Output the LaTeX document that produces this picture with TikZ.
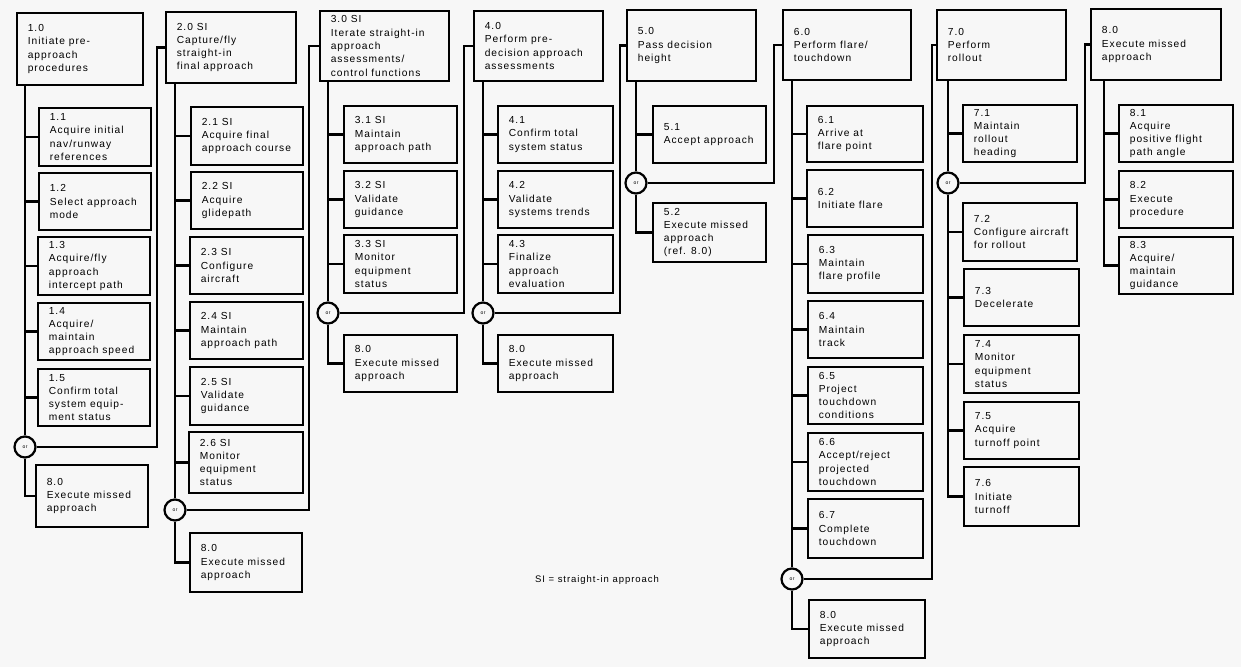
\documentclass[tikz,border=0pt]{standalone}
\usepackage{fontspec}
\setmainfont{Liberation Sans}[LetterSpace=10]
\begin{document}
% one task box: name, left, top, right, bottom, label text
\newcommand\taskbox[6]{%
  \node[tbox, minimum width={#4-#2}, minimum height={#5-#3}] (#1) at ({(#2+#4)/2},{(#3+#5)/2}) {};
  \node[ttext] (#1-t) at ([xshift=12pt]#1.west) {#6};
}
\begin{tikzpicture}[x=1pt,y=-1pt,
  tbox/.style={draw, rectangle, line width=2.8pt, inner sep=0pt},
  ttext/.style={anchor=west, align=left, inner sep=0pt, font=\fontsize{10.2}{13.3}\selectfont},
  conn/.style={line width=2.8pt},
  orgate/.style={circle, draw, line width=2.2pt, fill=white!97!black, minimum size=21pt, inner sep=0pt, font=\fontsize{5}{5}\selectfont}]
\fill[white!97!black] (0,0) rectangle (1241,667);
\useasboundingbox (0,0) rectangle (1241,667);

% ---- 1.0 ----
\taskbox{b10}{17}{13}{143}{85}{1.0\\Initiate pre-\\approach\\procedures}
\taskbox{b11}{39}{108}{151}{166}{1.1\\Acquire initial\\nav/runway\\references}
\taskbox{b12}{39}{173}{151}{230}{1.2\\Select approach\\mode}
\taskbox{b13}{38}{237}{150}{295}{1.3\\Acquire/fly\\approach\\intercept path}
\taskbox{b14}{38}{303}{150}{360}{1.4\\Acquire/\\maintain\\approach speed}
\taskbox{b15}{38}{369}{150}{426}{1.5\\Confirm total\\system equip-\\ment status}
\taskbox{b18}{36}{465}{148}{527}{8.0\\Execute missed\\approach}
\node[orgate] (or1) at (25,447) {or};

% ---- 2.0 ----
\taskbox{b20}{166}{12}{296}{83}{2.0 SI\\Capture/fly\\straight-in\\final approach}
\taskbox{b21}{191}{107}{303}{165}{2.1 SI\\Acquire final\\approach course}
\taskbox{b22}{191}{172}{303}{229}{2.2 SI\\Acquire\\glidepath}
\taskbox{b23}{190}{237}{303}{294}{2.3 SI\\Configure\\aircraft}
\taskbox{b24}{190}{302}{303}{359}{2.4 SI\\Maintain\\approach path}
\taskbox{b25}{190}{367}{303}{425}{2.5 SI\\Validate\\guidance}
\taskbox{b26}{189}{432}{303}{493}{2.6 SI\\Monitor\\equipment\\status}
\taskbox{b28}{190}{533}{302}{592}{8.0\\Execute missed\\approach}
\node[orgate] (or2) at (175,510) {or};

% ---- 3.0 ----
\taskbox{b30}{320}{11}{449}{81}{3.0 SI\\Iterate straight-in\\approach\\assessments/\\control functions}
\taskbox{b31}{344}{106}{457}{163}{3.1 SI\\Maintain\\approach path}
\taskbox{b32}{344}{171}{457}{228}{3.2 SI\\Validate\\guidance}
\taskbox{b33}{344}{235}{457}{293}{3.3 SI\\Monitor\\equipment\\status}
\taskbox{b38}{344}{335}{457}{392}{8.0\\Execute missed\\approach}
\node[orgate] (or3) at (328,313) {or};

% ---- 4.0 ----
\taskbox{b40}{474}{11}{603}{81}{4.0\\Perform pre-\\decision approach\\assessments}
\taskbox{b41}{498}{106}{613}{163}{4.1\\Confirm total\\system status}
\taskbox{b42}{498}{171}{613}{228}{4.2\\Validate\\systems trends}
\taskbox{b43}{498}{235}{613}{293}{4.3\\Finalize\\approach\\evaluation}
\taskbox{b48}{498}{335}{613}{392}{8.0\\Execute missed\\approach}
\node[orgate] (or4) at (483,313) {or};

% ---- 5.0 ----
\taskbox{b50}{627}{10}{756}{81}{5.0\\Pass decision\\height}
\taskbox{b51}{653}{106}{766}{163}{5.1\\Accept approach}
\taskbox{b52}{653}{203}{766}{262}{5.2\\Execute missed\\approach\\(ref. 8.0)}
\node[orgate] (or5) at (636,183) {or};

% ---- 6.0 ----
\taskbox{b60}{783}{10}{911}{80}{6.0\\Perform flare/\\touchdown}
\taskbox{b61}{807}{106}{923}{162}{6.1\\Arrive at\\flare point}
\taskbox{b62}{807}{170}{923}{227}{6.2\\Initiate flare}
\taskbox{b63}{808}{235}{923}{293}{6.3\\Maintain\\flare profile}
\taskbox{b64}{808}{301}{923}{358}{6.4\\Maintain\\track}
\taskbox{b65}{808}{367}{923}{424}{6.5\\Project\\touchdown\\conditions}
\taskbox{b66}{808}{433}{923}{491}{6.6\\Accept/reject\\projected\\touchdown}
\taskbox{b67}{808}{499}{923}{558}{6.7\\Complete\\touchdown}
\taskbox{b68}{809}{600}{925}{658}{8.0\\Execute missed\\approach}
\node[orgate] (or6) at (792,579) {or};

% ---- 7.0 ----
\taskbox{b70}{937}{10}{1066}{80}{7.0\\Perform\\rollout}
\taskbox{b71}{963}{105}{1077}{162}{7.1\\Maintain\\rollout\\heading}
\taskbox{b72}{963}{203}{1077}{261}{7.2\\Configure aircraft\\for rollout}
\taskbox{b73}{964}{269}{1079}{326}{7.3\\Decelerate}
\taskbox{b74}{964}{335}{1079}{393}{7.4\\Monitor\\equipment\\status}
\taskbox{b75}{964}{402}{1079}{459}{7.5\\Acquire\\turnoff point}
\taskbox{b76}{964}{467}{1079}{526}{7.6\\Initiate\\turnoff}
\node[orgate] (or7) at (948,183) {or};

% ---- 8.0 ----
\taskbox{b80}{1091}{9}{1221}{80}{8.0\\Execute missed\\approach}
\taskbox{b81}{1119}{105}{1233}{162}{8.1\\Acquire\\positive flight\\path angle}
\taskbox{b82}{1119}{171}{1233}{228}{8.2\\Execute\\procedure}
\taskbox{b83}{1119}{237}{1233}{294}{8.3\\Acquire/\\maintain\\guidance}
\coordinate (s8) at (1104,0);

% x positions of the return lines leading to the next phase
\coordinate (r1) at (157,0);
\coordinate (r2) at (309,0);
\coordinate (r3) at (464,0);
\coordinate (r4) at (620,0);
\coordinate (r5) at (774,0);
\coordinate (r6) at (932,0);
\coordinate (r7) at (1085,0);

% spines, branches and alternatives
\draw[conn] (b10.south -| or1) -- (or1);
\foreach \b in {b11,b12,b13,b14,b15} \draw[conn] (\b.west) -- (\b.west -| or1);
\draw[conn] (or1) |- (b18.west);
\draw[conn] (or1) -| (r1 |- b20.west) -- (b20.west);

\draw[conn] (b20.south -| or2) -- (or2);
\foreach \b in {b21,b22,b23,b24,b25,b26} \draw[conn] (\b.west) -- (\b.west -| or2);
\draw[conn] (or2) |- (b28.west);
\draw[conn] (or2) -| (r2 |- b30.west) -- (b30.west);

\draw[conn] (b30.south -| or3) -- (or3);
\foreach \b in {b31,b32,b33} \draw[conn] (\b.west) -- (\b.west -| or3);
\draw[conn] (or3) |- (b38.west);
\draw[conn] (or3) -| (r3 |- b40.west) -- (b40.west);

\draw[conn] (b40.south -| or4) -- (or4);
\foreach \b in {b41,b42,b43} \draw[conn] (\b.west) -- (\b.west -| or4);
\draw[conn] (or4) |- (b48.west);
\draw[conn] (or4) -| (r4 |- b50.west) -- (b50.west);

\draw[conn] (b50.south -| or5) -- (or5);
\draw[conn] (b51.west) -- (b51.west -| or5);
\draw[conn] (or5) |- (b52.west);
\draw[conn] (or5) -| (r5 |- b60.west) -- (b60.west);

\draw[conn] (b60.south -| or6) -- (or6);
\foreach \b in {b61,b62,b63,b64,b65,b66,b67} \draw[conn] (\b.west) -- (\b.west -| or6);
\draw[conn] (or6) |- (b68.west);
\draw[conn] (or6) -| (r6 |- b70.west) -- (b70.west);

\draw[conn] (b70.south -| or7) -- (or7);
\draw[conn] (b71.west) -- (b71.west -| or7);
\draw[conn] (or7) |- (b76.west);
\foreach \b in {b72,b73,b74,b75} \draw[conn] (\b.west) -- (\b.west -| or7);
\draw[conn] (or7) -| (r7 |- b80.west) -- (b80.west);

\draw[conn] (b80.south -| s8) |- (b83.west);
\foreach \b in {b81,b82} \draw[conn] (\b.west) -- (\b.west -| s8);

\node[ttext, anchor=center, font=\fontsize{9.5}{12}\selectfont] (note) at (597,580) {SI = straight-in approach};
\end{tikzpicture}
\end{document}
